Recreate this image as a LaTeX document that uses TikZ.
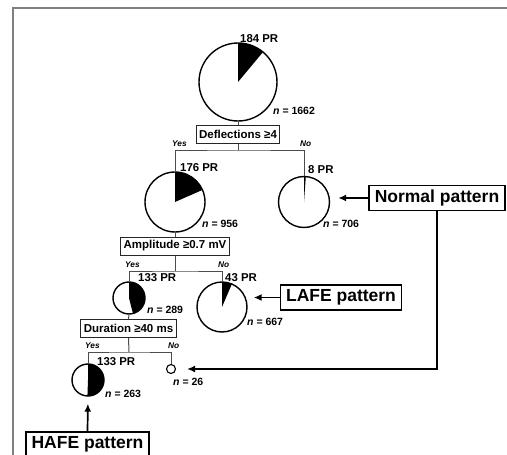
\documentclass[tikz,border=0pt]{standalone}
\usepackage{fontspec}
\setmainfont{Liberation Sans}
\usetikzlibrary{arrows.meta,positioning,calc}

\begin{document}
\begin{tikzpicture}[
            x=1pt,y=-1pt,
            pie/.style={circle, draw, line width=1.4pt, inner sep=0pt},
            critbox/.style={draw=black!85, line width=1pt, inner xsep=3pt, inner ysep=0pt, minimum height=18pt, font=\fontsize{11.5}{13}\selectfont\bfseries},
            patbox/.style={draw, line width=1.6pt, inner xsep=5.5pt, inner ysep=0pt, minimum height=25pt, font=\fontsize{17.5}{20}\selectfont\bfseries},
            prlab/.style={anchor=base west, inner sep=0pt, font=\fontsize{11.4}{13}\selectfont\bfseries},
            nlab/.style={anchor=base west, inner sep=0pt, font=\fontsize{10.5}{12}\selectfont\bfseries},
            yn/.style={anchor=base west, inner sep=0pt, font=\fontsize{8.3}{9}\selectfont\bfseries\itshape},
            tree/.style={draw=black!70, line width=1pt},
            arr/.style={-{Latex[length=8pt,width=7pt]}, line width=1.7pt},
            frameline/.style={draw=black!50, line width=1.5pt}
        ]
            \useasboundingbox (0,0) rectangle (507,455);
            \draw[frameline] (507,8) -- (13,8) -- (13,455);

            % pies: name/x/y/radius/fraction
            \foreach \nm/\px/\py/\rr/\fr in {p1/238/82/39/0.1107, p2/175/202/30/0.1841, p3/304/202/25.5/0.0113,
                                               p4/129/298/16/0.4602, p5/222/307/25/0.0645, p6/88/380/16/0.5057} {
                \fill (\px,\py) -- ++(90:\rr pt) arc[start angle=90, delta angle=-360*\fr, radius=\rr pt] -- cycle;
                \node[pie, minimum size={2*\rr pt}] (\nm) at (\px,\py) {};
            }
            \node[pie, line width=1.1pt, minimum size=9pt] (p7) at (171,369) {};

            % counts
            \node[prlab] (pr1) at (240,42) {184 PR};
            \node[nlab] (n1) at (273,114) {\textit{n} = 1662};
            \node[prlab] (pr2) at (180,171) {176 PR};
            \node[nlab] (n2) at (202,227) {\textit{n} = 956};
            \node[prlab] (pr3) at (308,173) {8 PR};
            \node[nlab] (n3) at (323,227) {\textit{n} = 706};
            \node[prlab] (pr4) at (138,281) {133 PR};
            \node[nlab] (n4) at (147,313) {\textit{n} = 289};
            \node[prlab] (pr5) at (225,281) {43 PR};
            \node[nlab] (n5) at (247,325) {\textit{n} = 667};
            \node[prlab] (pr6) at (97,365) {133 PR};
            \node[nlab] (n6) at (105,397) {\textit{n} = 263};
            \node[nlab] (n7) at (173,385) {\textit{n} = 26};

            % split 1
            \node[critbox] (defl) at (238,134) {Deflections ≥4};
            \coordinate (s1) at (238,150);
            \draw[tree] (p1.south) -- (defl.north);
            \draw[tree] (defl.south) -- (s1);
            \draw[tree] (p2.north) |- (s1) -| (p3.north);
            \node[yn] (y1) at (172,146) {Yes};
            \node[yn] (no1) at (300,146) {No};

            % split 2
            \node[critbox] (ampl) at (175,246) {Amplitude ≥0.7 mV};
            \coordinate (s2) at (175,271);
            \draw[tree] (p2.south) -- (ampl.north);
            \draw[tree] (ampl.south) -- (s2);
            \draw[tree] (p4.north) |- (s2) -| (p5.north);
            \node[yn] (y2) at (125,267) {Yes};
            \node[yn] (no2) at (218,267) {No};

            % split 3
            \node[critbox] (dur) at (128.5,328.5) {Duration ≥40 ms};
            \coordinate (s3) at (129,352);
            \draw[tree] (p4.south) -- (dur.north);
            \draw[tree] (dur.south) -- (s3);
            \draw[tree] (p6.north) |- (s3) -| (p7.north);
            \node[yn] (y3) at (85,348) {Yes};
            \node[yn] (no3) at (168,348) {No};

            % patterns
            \node[patbox] (normal) at (437,198) {Normal pattern};
            \node[patbox] (lafe) at (341,297.5) {LAFE pattern};
            \node[patbox] (hafe) at (87.5,444.5) {HAFE pattern};
            \draw[arr, shorten >=8pt] (normal.west) -- (normal.west -| p3.east);
            \draw[arr, shorten >=11pt] (normal.south) |- (p7.east);
            \draw[arr, shorten >=6pt] (lafe.west) -- (lafe.west -| p5.east);
            \draw[arr, shorten >=7pt] (hafe.north) -- (p6.south);
        \end{tikzpicture}
\end{document}
